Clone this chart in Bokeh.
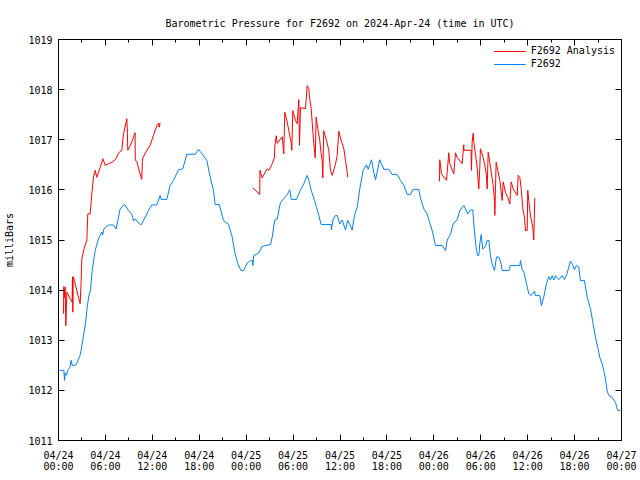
import numpy as np
from bokeh.plotting import figure
from bokeh.models import Range1d, LinearAxis, FixedTicker, Legend, LegendItem
from bokeh.embed import file_html
from bokeh.resources import INLINE

# ---- data (hours since 2024-04-24 00:00 UTC) ----
blue_h = [0.13, 0.68, 0.77, 0.85, 1.02, 1.19, 1.45, 1.62, 1.75, 2.17, 2.39, 2.72, 2.90, 3.16, 3.45,
          3.67, 3.88, 4.09, 4.31, 4.69, 5.11, 5.54, 5.65, 5.80, 6.39, 7.03, 7.37, 7.88, 8.44, 8.95,
          9.38, 9.60, 9.80, 10.44, 10.60, 10.87, 11.51, 11.93, 12.57, 13.00, 13.13, 13.85, 14.28,
          14.71, 15.35, 15.90, 16.41, 17.48, 17.90, 18.33, 18.97, 19.40, 19.82, 20.03, 20.55,
          21.10, 21.74, 22.17, 22.59, 23.00, 23.36, 23.66, 24.13, 24.55, 24.80, 24.85, 24.98,
          25.61, 26.05, 26.47, 27.11, 27.33, 27.66, 27.97, 28.39, 28.81, 29.25, 29.58, 29.76,
          30.44, 30.86, 31.37, 31.80, 32.01, 32.32, 32.74, 33.00, 33.29, 33.59, 34.87, 34.90,
          35.10, 35.42, 35.64, 35.98, 36.28, 36.70, 36.99, 37.30, 37.56, 37.85, 38.20, 38.53,
          38.96, 39.39, 39.60, 40.03, 40.32, 40.54, 41.09, 41.60, 42.24, 42.67, 43.31, 43.73,
          44.16, 44.59, 45.01, 45.36, 46.08, 46.29, 46.72, 47.15, 47.36, 47.79, 48.21, 49.07,
          49.49, 49.71, 50.13, 50.47, 50.98, 51.32, 51.83, 52.05, 52.34, 52.69, 52.98, 53.20,
          53.45, 53.62, 53.75, 53.88, 54.05, 54.26, 54.60, 54.82, 55.05, 55.24, 55.46, 55.76,
          56.01, 56.31, 56.61, 56.74, 57.59, 57.80, 59.00, 59.08, 59.29, 59.51, 59.85, 60.14,
          60.44, 60.87, 61.00, 61.55, 61.76, 62.06, 62.40, 62.70, 62.91, 63.13, 63.34, 63.55,
          63.98, 64.41, 64.71, 65.05, 65.26, 65.47, 65.69, 65.98, 66.24, 66.54, 66.75, 67.26,
          67.61, 68.03, 68.37, 68.67, 68.96, 69.22, 69.53, 69.73, 69.95, 70.16, 70.37, 70.80,
          71.22, 71.52, 71.87]
blue_v = [1012.40, 1012.40, 1012.20, 1012.35, 1012.30, 1012.40, 1012.46, 1012.60, 1012.50, 1012.50,
          1012.56, 1012.68, 1012.80, 1013.06, 1013.33, 1013.66, 1013.89, 1013.99, 1014.39, 1014.79,
          1015.02, 1015.16, 1015.10, 1015.22, 1015.30, 1015.30, 1015.22, 1015.62, 1015.71, 1015.59,
          1015.51, 1015.38, 1015.42, 1015.31, 1015.31, 1015.39, 1015.59, 1015.70, 1015.70, 1015.89,
          1015.81, 1015.81, 1016.09, 1016.19, 1016.40, 1016.42, 1016.71, 1016.71, 1016.81, 1016.72,
          1016.59, 1016.25, 1015.99, 1015.71, 1015.71, 1015.39, 1015.31, 1015.09, 1014.72, 1014.50,
          1014.39, 1014.39, 1014.54, 1014.59, 1014.59, 1014.49, 1014.69, 1014.74, 1014.87, 1014.89,
          1014.91, 1015.06, 1015.40, 1015.42, 1015.75, 1015.82, 1015.91, 1016.00, 1015.81, 1015.81,
          1015.97, 1016.12, 1016.29, 1016.19, 1015.99, 1015.79, 1015.65, 1015.49, 1015.31, 1015.31,
          1015.20, 1015.40, 1015.49, 1015.49, 1015.32, 1015.40, 1015.20, 1015.39, 1015.30, 1015.20,
          1015.49, 1015.65, 1016.02, 1016.39, 1016.50, 1016.41, 1016.60, 1016.35, 1016.20, 1016.60,
          1016.41, 1016.41, 1016.31, 1016.31, 1016.19, 1016.09, 1015.91, 1015.91, 1016.01, 1016.01,
          1015.84, 1015.62, 1015.52, 1015.40, 1015.19, 1014.89, 1014.89, 1014.79, 1015.00, 1015.11,
          1015.32, 1015.40, 1015.59, 1015.69, 1015.62, 1015.52, 1015.60, 1015.60, 1015.16, 1014.79,
          1014.69, 1014.69, 1014.92, 1015.11, 1014.82, 1014.87, 1014.99, 1014.99, 1014.69, 1014.52,
          1014.39, 1014.66, 1014.66, 1014.52, 1014.39, 1014.39, 1014.49, 1014.49, 1014.59, 1014.41,
          1014.36, 1014.13, 1013.93, 1013.89, 1013.98, 1013.89, 1013.89, 1013.69, 1013.86, 1014.13,
          1014.27, 1014.20, 1014.29, 1014.20, 1014.29, 1014.21, 1014.29, 1014.21, 1014.34, 1014.46,
          1014.58, 1014.52, 1014.41, 1014.49, 1014.46, 1014.19, 1014.19, 1013.86, 1013.63, 1013.33,
          1013.06, 1012.86, 1012.66, 1012.53, 1012.40, 1012.23, 1011.99, 1011.90, 1011.86, 1011.76,
          1011.60, 1011.60]

red1_h = [0.64, 0.68, 0.75, 0.85, 0.94, 1.07, 1.62, 1.75, 1.79, 1.83, 1.88, 2.05, 2.34, 2.60, 2.77,
          2.90, 2.98, 3.32, 3.62, 3.75, 4.05, 4.26, 4.48, 4.69, 4.90, 5.33, 5.67, 5.97, 6.82, 7.25,
          7.76, 8.10, 8.31, 8.65, 8.74, 8.82, 8.86, 9.16, 9.59, 9.80, 9.82, 10.01, 10.31, 10.65,
          10.74, 11.16, 11.72, 12.15, 12.57, 12.79, 12.88, 13.00]
red1_v = [1013.53, 1014.07, 1013.85, 1014.06, 1013.29, 1013.96, 1013.79, 1013.76, 1014.26, 1013.56,
          1014.27, 1014.19, 1013.99, 1013.83, 1013.73, 1014.19, 1014.62, 1014.86, 1014.99, 1015.52,
          1015.52, 1015.92, 1016.25, 1016.39, 1016.25, 1016.45, 1016.62, 1016.49, 1016.55, 1016.60,
          1016.75, 1016.79, 1017.12, 1017.35, 1017.42, 1017.12, 1016.79, 1016.88, 1017.05, 1017.14,
          1016.59, 1016.57, 1016.39, 1016.21, 1016.62, 1016.75, 1016.89, 1017.09, 1017.28, 1017.33,
          1017.25, 1017.34]

red2_h = [24.85, 25.74, 25.76, 26.04, 26.68, 26.90, 27.33, 27.62, 27.66, 27.84, 27.97, 28.61, 28.81,
          28.94, 29.25, 29.58, 29.76, 29.84, 29.96, 30.31, 30.52, 30.73, 30.82, 30.95, 31.59, 31.80,
          32.01, 32.10, 32.32, 32.44, 32.65, 32.83, 32.95, 33.16, 33.41, 33.59, 33.72, 33.80, 33.92,
          34.27, 34.57, 34.78, 35.00, 35.42, 35.64, 35.85, 36.15, 36.49, 36.70, 36.92, 36.99]
red2_v = [1016.04, 1015.91, 1016.39, 1016.24, 1016.42, 1016.39, 1016.52, 1016.64, 1016.87, 1017.08,
          1016.93, 1017.06, 1016.72, 1017.55, 1017.35, 1017.08, 1016.93, 1016.79, 1017.58, 1017.38,
          1017.32, 1017.80, 1016.89, 1017.64, 1017.62, 1018.08, 1018.02, 1017.85, 1017.62, 1017.35,
          1016.92, 1016.64, 1017.45, 1017.22, 1016.99, 1016.72, 1016.59, 1016.24, 1017.18, 1016.99,
          1016.79, 1016.39, 1016.29, 1016.51, 1016.69, 1017.17, 1016.99, 1016.82, 1016.59, 1016.35,
          1016.25]

red3_h = [48.72, 48.76, 48.98, 49.62, 49.91, 50.04, 50.55, 50.77, 50.98, 51.62, 51.83, 51.85, 52.77,
          52.81, 52.90, 53.03, 53.11, 53.32, 53.54, 53.75, 53.88, 53.96, 54.31, 54.51, 54.73, 54.82,
          54.95, 55.16, 55.37, 55.59, 55.76, 55.80, 55.97, 56.18, 56.44, 56.74, 56.87, 57.16, 57.46,
          57.72, 57.89, 58.15, 58.66, 58.79, 59.00, 59.17, 59.38, 59.59, 59.72, 59.94, 60.01, 60.14,
          60.27, 60.44, 60.65, 60.78, 60.91]
red3_v = [1016.17, 1016.60, 1016.32, 1016.19, 1016.74, 1016.52, 1016.32, 1016.74, 1016.65, 1016.52,
          1016.90, 1016.79, 1016.79, 1016.39, 1016.95, 1017.13, 1016.95, 1016.72, 1016.45, 1016.02,
          1016.45, 1016.82, 1016.65, 1016.49, 1016.29, 1016.02, 1016.75, 1016.55, 1016.32, 1016.09,
          1015.79, 1015.49, 1016.55, 1016.39, 1016.19, 1015.79, 1016.16, 1015.95, 1015.85, 1015.72,
          1016.16, 1016.02, 1015.89, 1016.29, 1016.25, 1016.02, 1015.62, 1015.45, 1015.19, 1015.19,
          1015.99, 1015.79, 1015.59, 1015.42, 1015.26, 1015.00, 1015.84]

x_tick_hours = [0, 6, 12, 18, 24, 30, 36, 42, 48, 54, 60, 66, 72]
x_tick_labels = ["04/24\n00:00", "04/24\n06:00", "04/24\n12:00", "04/24\n18:00",
                 "04/25\n00:00", "04/25\n06:00", "04/25\n12:00", "04/25\n18:00",
                 "04/26\n00:00", "04/26\n06:00", "04/26\n12:00", "04/26\n18:00",
                 "04/27\n00:00"]
x_minor_hours = [3, 9, 15, 21, 27, 33, 39, 45, 51, 57, 63, 69]
y_ticks = [1011, 1012, 1013, 1014, 1015, 1016, 1017, 1018, 1019]

title_text = "Barometric Pressure for F2692 on 2024-Apr-24 (time in UTC)"
y_label = "milliBars"
red_name = "F2692 Analysis"
blue_name = "F2692"

RED = "#ff0000"
BLUE = "#0080ff"
FONT = "DejaVu Sans Mono"
FS = "10px"

# red segments joined with gaps
red_h = red1_h + [np.nan] + red2_h + [np.nan] + red3_h
red_v = red1_v + [np.nan] + red2_v + [np.nan] + red3_v

p = figure(width=640, height=480, output_backend="svg", toolbar_location=None,
           x_range=Range1d(0, 72), y_range=Range1d(1011, 1019),
           min_border_left=58, min_border_right=19, min_border_top=39, min_border_bottom=40)
p.title.text = title_text
p.title.align = "center"
p.title.text_font = FONT
p.title.text_font_size = FS
p.title.text_font_style = "normal"
p.title.text_color = "black"
p.title.standoff = 21
p.grid.visible = False
p.outline_line_color = "black"
p.outline_line_width = 1
p.outline_line_alpha = 1

xt = FixedTicker(ticks=x_tick_hours, minor_ticks=x_minor_hours)
yt = FixedTicker(ticks=y_ticks, minor_ticks=[])

def style_axis(ax, labels=True):
    ax.axis_line_color = "black"
    ax.major_tick_in = 6
    ax.major_tick_out = 0
    ax.minor_tick_in = 3
    ax.minor_tick_out = 0
    ax.major_tick_line_color = "black"
    ax.minor_tick_line_color = "black"
    ax.major_label_text_font = FONT
    if labels:
        ax.major_label_text_font_size = FS
        ax.major_label_text_color = "black"
    else:
        ax.major_label_text_font_size = "0px"
        ax.major_label_text_color = None
        ax.major_label_standoff = 0

p.xaxis.ticker = xt
p.yaxis.ticker = yt
p.xaxis.major_label_overrides = {h: lab for h, lab in zip(x_tick_hours, x_tick_labels)}
style_axis(p.xaxis[0])
style_axis(p.yaxis[0])
p.xaxis.major_label_standoff = 9
p.xaxis.major_label_text_line_height = 1.0
p.yaxis.major_label_standoff = 6
p.yaxis.axis_label = y_label
p.yaxis.axis_label_text_font = FONT
p.yaxis.axis_label_text_font_size = FS
p.yaxis.axis_label_text_font_style = "normal"
p.yaxis.axis_label_text_color = "black"
p.yaxis.axis_label_standoff = 10

top = LinearAxis(ticker=xt)
style_axis(top, labels=False)
p.add_layout(top, "above")
right = LinearAxis(ticker=yt)
style_axis(right, labels=False)
p.add_layout(right, "right")

r_red = p.line(red_h, red_v, line_color=RED, line_width=1)
r_blue = p.line(blue_h, blue_v, line_color=BLUE, line_width=1)

legend = Legend(items=[LegendItem(label=red_name, renderers=[r_red]),
                       LegendItem(label=blue_name, renderers=[r_blue])],
                location="top_right")
legend.label_text_font = FONT
legend.label_text_font_size = FS
legend.label_text_color = "black"
legend.label_height = 10
legend.glyph_height = 10
legend.glyph_width = 32
legend.spacing = 2
legend.padding = 4
legend.margin = 2
legend.background_fill_alpha = 0
legend.border_line_alpha = 0
p.add_layout(legend)

open("out.html", "w").write(file_html(p, INLINE))
